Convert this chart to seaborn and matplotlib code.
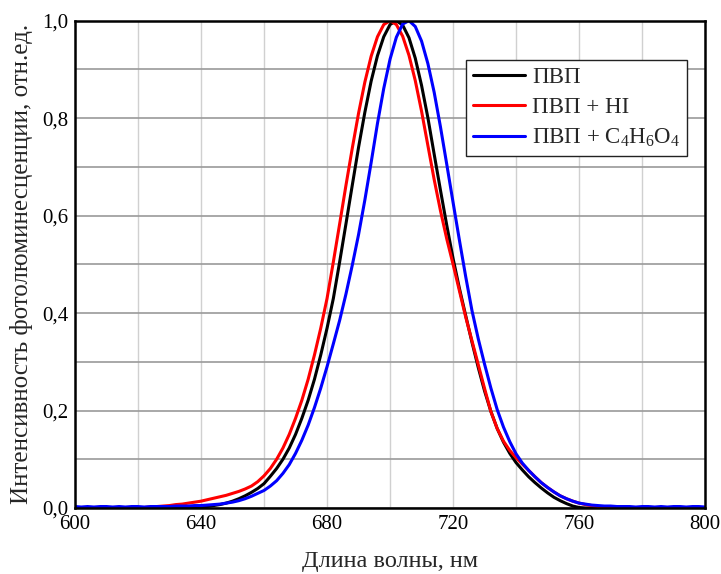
import numpy as np
import pandas as pd
import matplotlib
matplotlib.use("Agg")
import matplotlib.pyplot as plt
from matplotlib.ticker import MultipleLocator
import seaborn as sns

# wavelength grid, nm (2 nm step)
wavelength = np.arange(600, 801, 2)

# PL intensity, one row = 20 nm
pvp = [
    0, 0, 0, 0, 0, 0, 0, 0, 0, 0,                                              # 600-618
    0, 0, 0, 0, 0, 0, 0, 0.001, 0.001, 0.001,                                  # 620-638
    0.002, 0.003, 0.005, 0.007, 0.010, 0.014, 0.019, 0.025, 0.032, 0.040,      # 640-658
    0.050, 0.065, 0.081, 0.100, 0.123, 0.151, 0.184, 0.221, 0.264, 0.314,      # 660-678
    0.369, 0.430, 0.505, 0.583, 0.662, 0.740, 0.812, 0.876, 0.928, 0.967,      # 680-698
    0.992, 1.000, 0.991, 0.965, 0.923, 0.867, 0.801, 0.726, 0.652, 0.580,      # 700-718
    0.512, 0.451, 0.395, 0.340, 0.288, 0.240, 0.198, 0.163, 0.135, 0.112,      # 720-738
    0.093, 0.078, 0.064, 0.052, 0.041, 0.031, 0.022, 0.015, 0.009, 0.004,      # 740-758
    0.001, 0, 0, 0, 0, 0, 0, 0, 0, 0,                                          # 760-778
    0, 0, 0, 0, 0, 0, 0, 0, 0, 0,                                              # 780-798
    0,                                                                         # 800
]
pvp_hi = [
    0, 0, 0, 0, 0, 0, 0, 0, 0, 0,
    0.001, 0.001, 0.002, 0.003, 0.004, 0.005, 0.007, 0.008, 0.010, 0.012,
    0.014, 0.017, 0.020, 0.023, 0.026, 0.030, 0.034, 0.039, 0.045, 0.054,
    0.066, 0.081, 0.100, 0.123, 0.151, 0.184, 0.221, 0.264, 0.314, 0.369,
    0.430, 0.505, 0.583, 0.662, 0.738, 0.810, 0.874, 0.927, 0.967, 0.992,
    1.000, 0.992, 0.968, 0.929, 0.877, 0.814, 0.744, 0.674, 0.610, 0.552,
    0.500, 0.446, 0.392, 0.343, 0.294, 0.245, 0.198, 0.163, 0.137, 0.118,
    0.103, 0.090, 0.077, 0.064, 0.052, 0.042, 0.033, 0.025, 0.019, 0.014,
    0.010, 0.007, 0.005, 0.003, 0.002, 0.002, 0.001, 0.001, 0, 0,
    0, 0, 0, 0, 0, 0, 0, 0, 0, 0,
    0,
]
pvp_c4 = [
    0.003, 0.002, 0.003, 0.002, 0.003, 0.003, 0.002, 0.003, 0.002, 0.003,
    0.003, 0.002, 0.003, 0.003, 0.003, 0.003, 0.004, 0.004, 0.004, 0.005,
    0.005, 0.006, 0.007, 0.008, 0.010, 0.012, 0.015, 0.019, 0.024, 0.030,
    0.036, 0.045, 0.056, 0.071, 0.089, 0.112, 0.139, 0.170, 0.206, 0.246,
    0.290, 0.337, 0.385, 0.439, 0.498, 0.561, 0.632, 0.709, 0.789, 0.861,
    0.921, 0.966, 0.993, 1.000, 0.988, 0.958, 0.912, 0.853, 0.782, 0.705,
    0.627, 0.550, 0.475, 0.405, 0.347, 0.295, 0.246, 0.202, 0.166, 0.136,
    0.111, 0.092, 0.077, 0.064, 0.052, 0.042, 0.033, 0.025, 0.019, 0.014,
    0.010, 0.008, 0.006, 0.005, 0.004, 0.004, 0.003, 0.003, 0.003, 0.002,
    0.003, 0.003, 0.002, 0.003, 0.002, 0.003, 0.003, 0.002, 0.003, 0.003,
    0.002,
]

series_names = ["ПВП", "ПВП + HI", "ПВП + C$_4$H$_6$O$_4$"]
series_colors = ["black", "red", "blue"]
x_ticks = [600, 640, 680, 720, 760, 800]
y_ticks = [0.0, 0.2, 0.4, 0.6, 0.8, 1.0]
y_tick_labels = ["0,0", "0,2", "0,4", "0,6", "0,8", "1,0"]

df = pd.DataFrame({"wl": wavelength, series_names[0]: pvp,
                   series_names[1]: pvp_hi, series_names[2]: pvp_c4})
df = df.melt(id_vars="wl", var_name="sample", value_name="intensity")

sns.set_style("white")
plt.rcParams["font.family"] = ["Liberation Serif", "DejaVu Serif"]
plt.rcParams["mathtext.fontset"] = "custom"
plt.rcParams["mathtext.rm"] = "Liberation Serif"
plt.rcParams["mathtext.it"] = "Liberation Serif:italic"
plt.rcParams["mathtext.bf"] = "Liberation Serif:bold"

fig, ax = plt.subplots(figsize=(7.21, 5.74), dpi=100)
fig.subplots_adjust(left=0.104, right=0.978, top=0.964, bottom=0.115)

sns.lineplot(data=df, x="wl", y="intensity", hue="sample", hue_order=series_names,
             palette=series_colors, linewidth=2.2, estimator=None, ax=ax)

ax.set_xlim(600, 800)
ax.set_ylim(0, 1.0)
ax.set_xticks(x_ticks)
ax.xaxis.set_minor_locator(MultipleLocator(20))
ax.set_yticks(y_ticks)
ax.set_yticklabels(y_tick_labels)
ax.yaxis.set_minor_locator(MultipleLocator(0.1))

ax.set_axisbelow(True)
ax.grid(which="both", axis="x", color="#d0d0d0", linewidth=1.0)
ax.grid(which="both", axis="y", color="#9a9a9a", linewidth=1.2)

ax.tick_params(axis="both", which="major", direction="in", length=8, width=1.5,
               labelsize=15, colors="black", pad=5)
ax.tick_params(axis="both", which="minor", direction="in", length=4, width=1.5)
for s in ax.spines.values():
    s.set_linewidth(1.8)
    s.set_color("black")

ax.set_xlabel("Длина волны, нм", fontsize=17.5, labelpad=12)
ax.set_ylabel("Интенсивность фотолюминесценции, отн.ед.", fontsize=18, labelpad=6)

handles, labels = ax.get_legend_handles_labels()
leg = ax.legend(handles, labels, loc="upper left", bbox_to_anchor=(0.646, 0.896),
                bbox_transform=fig.transFigure, borderaxespad=0, fontsize=16.5,
                frameon=True, fancybox=False, framealpha=1, edgecolor="#222222",
                handlelength=2.3, handletextpad=0.3, borderpad=0.3, labelspacing=0.4)
leg.get_frame().set_linewidth(1.0)
for line in leg.get_lines():
    line.set_linewidth(2.2)

fig.savefig("out.png", dpi=100)
